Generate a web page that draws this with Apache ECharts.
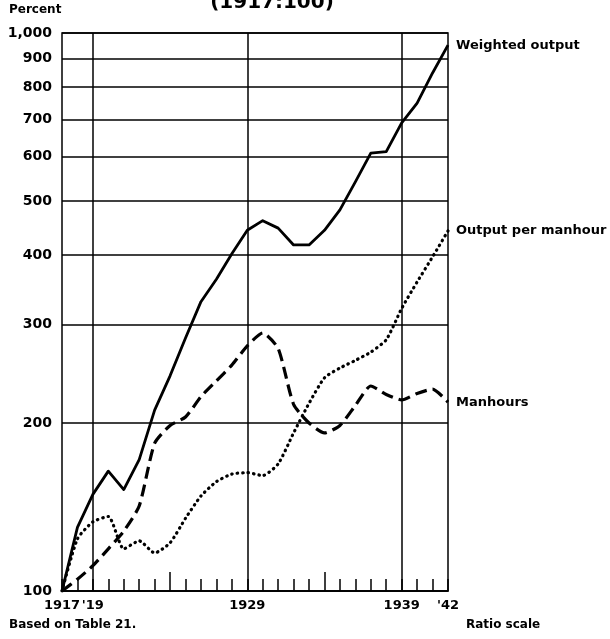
<!DOCTYPE html>
<html>
<head>
<meta charset="utf-8">
<script src="https://cdn.jsdelivr.net/npm/echarts@6/dist/echarts.min.js"></script>
<style>
html,body{margin:0;padding:0;background:#fff;}
#chart{width:610px;height:639px;}
</style>
</head>
<body>
<div id="chart"></div>
<script>
var years = [1917,1918,1919,1920,1921,1922,1923,1924,1925,1926,1927,1928,1929,1930,1931,1932,1933,1934,1935,1936,1937,1938,1939,1940,1941,1942];
var weightedOutput = [100,130,149,164,152,172,211,243,284,330,362,402,443,461,447,417,417,443,482,541,609,613,690,749,848,951];
var outputPerManhour = [100,124,133,136,119,123,117,122,135,148,157,162,163,161,169,192,217,241,251,259,268,282,321,358,397,442];
var manhours = [100,105,111,119,128,142,184,198,205,223,238,254,275,290,272,216,200,192,198,215,233,225,220,226,230,218];
var yTicks = [100,200,300,400,500,600,700,800,900,1000];
var xLabelYears = [1917,1919,1929,1939,1942];
var gridYears = [1919,1929,1939];
var longTickYears = [1924,1934];

var font = 'DejaVu Sans';

function pairs(vals){
	var out = [];
	for(var i=0;i<years.length;i++){
		out.push([years[i], vals[i]]);
	}
	return out;
}

function fmtNum(v){
	return v >= 1000 ? '1,000' : String(v);
}

var gridLines = [];
yTicks.forEach(function(v){
	gridLines.push({yAxis: v, label: {formatter: fmtNum(v)}});
});
gridYears.forEach(function(y){
	gridLines.push({xAxis: y, label: {show: false}});
});

var endLabel = {
	show: true,
	formatter: '{a}',
	distance: 8,
	color: '#000',
	fontFamily: font,
	fontWeight: 'bold',
	fontSize: 13
};

var option = {
	animation: false,
	backgroundColor: '#fff',
	grid: {
		left: 62, right: 162, top: 33, bottom: 48,
		show: true,
		borderColor: '#000',
		borderWidth: 1.5,
		backgroundColor: 'transparent'
	},
	graphic: [
		{type:'text', left: 9, top: 4, style: {text: 'Percent', font: 'bold 12px "DejaVu Sans"', fill: '#000'}},
		{type:'text', x: 272, y: 13, style: {text: '(1917:100)', font: 'bold 20px "DejaVu Sans"', fill: '#000', align: 'center', verticalAlign: 'bottom'}},
		{type:'text', left: 9, top: 619, style: {text: 'Based on Table 21.', font: 'bold 12px "DejaVu Sans"', fill: '#000'}},
		{type:'text', left: 466, top: 619, style: {text: 'Ratio scale', font: 'bold 12px "DejaVu Sans"', fill: '#000'}}
	],
	xAxis: [{
		type: 'value',
		min: 1917, max: 1942, interval: 1,
		axisLine: {show: true, lineStyle: {color: '#000', width: 1.5}},
		axisTick: {show: true, inside: true, length: 12, lineStyle: {color: '#000', width: 1.5}},
		axisLabel: {
			customValues: xLabelYears,
			margin: 8,
			color: '#000',
			fontFamily: font,
			fontWeight: 'bold',
			fontSize: 13,
			formatter: function(v){
				if(v == 1919 || v == 1942) return "'" + String(v).slice(2);
				return String(v);
			}
		},
		splitLine: {show: false}
	},{
		type: 'value',
		position: 'bottom',
		min: 1917, max: 1942,
		axisLine: {show: false},
		axisTick: {show: true, inside: true, length: 19, customValues: longTickYears, lineStyle: {color: '#000', width: 1.5}},
		axisLabel: {show: false},
		splitLine: {show: false}
	}],
	yAxis: {
		type: 'log',
		logBase: 10,
		min: 100, max: 1000,
		axisLine: {show: false},
		axisTick: {show: false},
		axisLabel: {show: false},
		splitLine: {show: false}
	},
	series: [
		{
			name: 'grid',
			type: 'line',
			data: [],
			z: 1,
			markLine: {
				silent: true,
				symbol: 'none',
				animation: false,
				lineStyle: {color: '#000', width: 1.5, type: 'solid'},
				label: {
					position: 'start',
					distance: 10,
					color: '#000',
					fontFamily: font,
					fontWeight: 'bold',
					fontSize: 14
				},
				data: gridLines
			}
		},
		{
			name: 'Weighted output',
			type: 'line',
			data: pairs(weightedOutput),
			z: 3,
			symbol: 'none',
			lineStyle: {color: '#000', width: 2.8, join: 'round'},
			endLabel: endLabel
		},
		{
			name: 'Output per manhour',
			type: 'line',
			data: pairs(outputPerManhour),
			z: 3,
			symbol: 'none',
			smooth: 0.2,
			lineStyle: {color: '#000', width: 3.2, type: [0.5, 5], cap: 'round'},
			endLabel: endLabel
		},
		{
			name: 'Manhours',
			type: 'line',
			data: pairs(manhours),
			z: 3,
			symbol: 'none',
			smooth: 0.2,
			lineStyle: {color: '#000', width: 3.2, type: [12, 6]},
			endLabel: endLabel
		}
	]
};

var myChart = echarts.init(document.getElementById('chart'));
myChart.setOption(option);
</script>
</body>
</html>
